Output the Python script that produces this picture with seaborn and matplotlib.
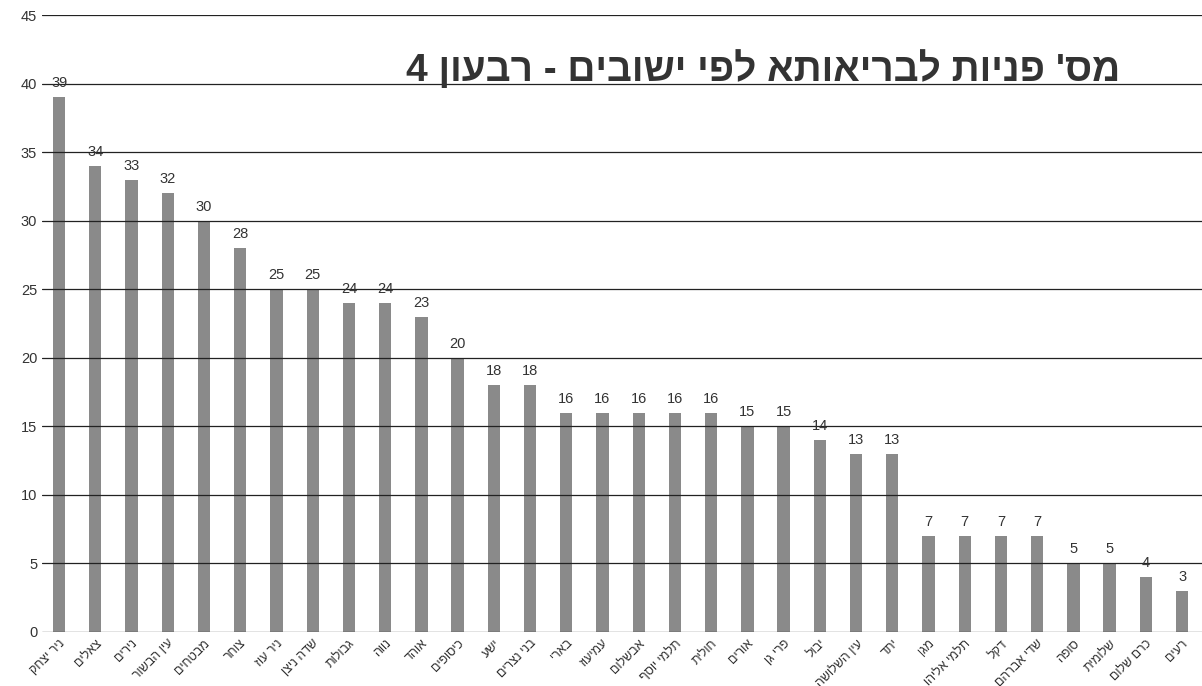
import matplotlib
matplotlib.use('Agg')
import matplotlib.pyplot as plt
import seaborn as sns
import pandas as pd

# data (Hebrew names, logical order)
settlements = ['ניר יצחק', 'צאלים', 'נירים', 'עין הבשור', 'מבטחים', 'צוחר',
               'ניר עוז', 'שדה ניצן', 'גבולות', 'נווה', 'אוהד', 'כיסופים',
               'ישע', 'בני נצרים', 'בארי', 'עמיעוז', 'אבשלום', 'תלמי יוסף',
               'חולית', 'אורים', 'פרי גן', 'יבול', 'עין השלושה', 'יתד',
               'מגן', 'תלמי אליהו', 'דקל', 'שדי אברהם', 'סופה', 'שלומית',
               'כרם שלום', 'רעים']
requests = [39, 34, 33, 32, 30, 28, 25, 25, 24, 24, 23, 20, 18, 18, 16, 16,
            16, 16, 16, 15, 15, 14, 13, 13, 7, 7, 7, 7, 5, 5, 4, 3]
title = "מס' פניות לבריאותא לפי ישובים - רבעון 4"
y_ticks = list(range(0, 50, 5))


def rtl(s):
    # matplotlib has no bidi support, so flip Hebrew into visual order
    return s[::-1]


sns.set_style('white')
plt.rcParams['font.family'] = ['Liberation Sans', 'DejaVu Sans']

df = pd.DataFrame({'name': [rtl(s) for s in settlements], 'count': requests})

fig = plt.figure(figsize=(12.02, 6.86), dpi=100)
ax = fig.add_axes([0.035, 0.079, 0.965, 0.899])

sns.barplot(data=df, x='name', y='count', color='#8a8a8a', saturation=1,
            width=0.34, linewidth=0, ax=ax, zorder=2)

for i, v in enumerate(requests):
    ax.text(i, v + 0.5, str(v), ha='center', va='bottom', fontsize=10.5,
            color='#333333', zorder=4)

ax.set_ylim(0, 45)
ax.set_xlim(-0.47, len(requests) - 0.45)
ax.set_yticks(y_ticks)
ax.yaxis.grid(True, color='#222222', linewidth=0.9, zorder=3)
ax.set_axisbelow(False)
for sp in ax.spines.values():
    sp.set_visible(False)
ax.tick_params(axis='both', length=0, labelsize=10.5, colors='#333333')
ax.tick_params(axis='x', labelsize=9, pad=4)
plt.setp(ax.get_xticklabels(), rotation=45, ha='right', rotation_mode='anchor')
ax.set_xlabel('')
ax.set_ylabel('')

fig.text(0.932, 0.898, rtl(title), ha='right', va='center', fontsize=28,
         fontweight='bold', color='#333333')

fig.savefig('out.png', dpi=100)
